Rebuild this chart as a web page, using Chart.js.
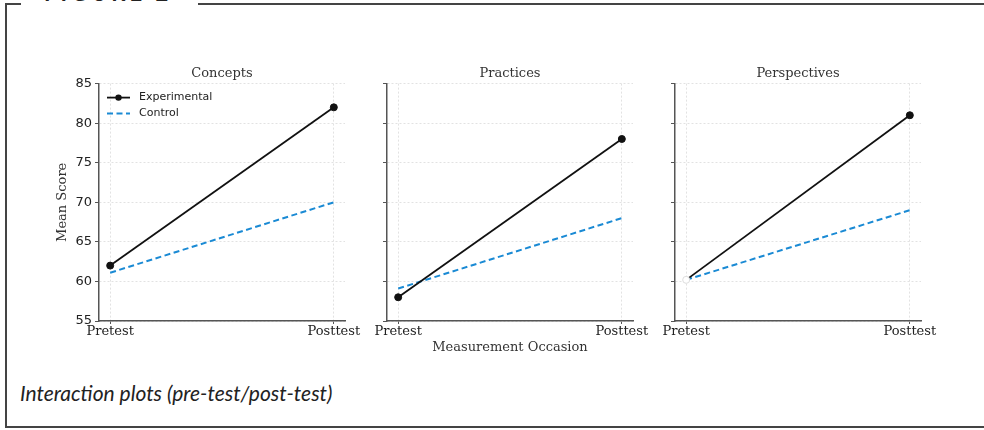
<!DOCTYPE html>
<html>
<head>
<meta charset="utf-8">
<script src="https://cdn.jsdelivr.net/npm/chart.js@4/dist/chart.umd.min.js"></script>
<style>
  html, body { margin: 0; padding: 0; background: #fff; }
  body { width: 984px; height: 430px; position: relative; overflow: hidden; }
  .frame-left { position: absolute; left: 5px; top: 3px; width: 2px; height: 425px; background: #444; }
  .frame-top1 { position: absolute; left: 5px; top: 3px; width: 16px; height: 2px; background: #444; }
  .frame-top2 { position: absolute; left: 198px; top: 3px; width: 786px; height: 2px; background: #444; }
  .frame-bottom { position: absolute; left: 5px; top: 426px; width: 979px; height: 2px; background: #444; }
  .fig-label { position: absolute; left: 44px; top: -18px; font: bold 22px Lato, sans-serif; line-height: 22px; letter-spacing: 4px; color: #222; }
  .caption { position: absolute; left: 20px; top: 380px; font: italic 21px Lato, sans-serif; color: #222; }
  canvas { position: absolute; }
</style>
</head>
<body>
<div class="frame-left"></div>
<div class="frame-top1"></div>
<div class="frame-top2"></div>
<div class="frame-bottom"></div>
<div class="fig-label">FIGURE 2</div>
<canvas id="c0" style="left:39px;top:60px" width="336" height="301"></canvas>
<canvas id="c1" style="left:327px;top:60px" width="336" height="301"></canvas>
<canvas id="c2" style="left:615px;top:60px" width="336" height="301"></canvas>
<div class="caption">Interaction plots (pre-test/post-test)</div>

<script>
// Data
const occasions = ['Pretest', 'Posttest'];
const panels = ['Concepts', 'Practices', 'Perspectives'];
const experimentalConcepts = [62, 82];
const controlConcepts = [61.1, 70];
const experimentalPractices = [58, 78];
const controlPractices = [59.1, 68];
const experimentalPerspectives = [60.2, 81];
const controlPerspectives = [60.2, 69];
const yTicks = [55, 60, 65, 70, 75, 80, 85];

const expData = [experimentalConcepts, experimentalPractices, experimentalPerspectives];
const ctrlData = [controlConcepts, controlPractices, controlPerspectives];

const serif = "'DejaVu Serif', serif";
const sans = "'DejaVu Sans', sans-serif";
const axisColor = '#555';
const blue = '#1a8ad4';

function toPoints(arr) {
    return arr.map((v, i) => ({ x: i, y: v }));
}

// legend drawn inside the plot area, like the original
const innerLegend = {
    id: 'innerLegend',
    afterDatasetsDraw(chart, args, opts) {
        if (!opts.show) return;
        const ctx = chart.ctx;
        const area = chart.chartArea;
        ctx.save();
        chart.data.datasets.forEach((ds, i) => {
            const y = area.top + 14 + i * 16;
            const x0 = area.left + 8;
            ctx.strokeStyle = ds.borderColor;
            ctx.lineWidth = ds.borderWidth;
            ctx.setLineDash(ds.borderDash || []);
            ctx.beginPath();
            ctx.moveTo(x0, y);
            ctx.lineTo(x0 + 23, y);
            ctx.stroke();
            ctx.setLineDash([]);
            if (ds.pointRadius > 0) {
                ctx.fillStyle = ds.borderColor;
                ctx.beginPath();
                ctx.arc(x0 + 11.5, y, 3.2, 0, Math.PI * 2);
                ctx.fill();
            }
            ctx.fillStyle = '#222';
            ctx.font = '11px ' + sans;
            ctx.textBaseline = 'middle';
            ctx.fillText(ds.label, x0 + 32, y);
        });
        ctx.restore();
    }
};

function makeChart(idx) {
    const ctx = document.getElementById('c' + idx).getContext('2d');
    const first = idx === 0;
    const middle = idx === 1;
    new Chart(ctx, {
        type: 'line',
        data: {
            datasets: [{
                label: 'Experimental',
                data: toPoints(expData[idx]),
                borderColor: '#111',
                borderWidth: 1.8,
                pointRadius: 3.5,
                pointBackgroundColor: c => (idx === 2 && c.dataIndex === 0) ? '#fff' : '#111',
                pointBorderColor: c => (idx === 2 && c.dataIndex === 0) ? '#ddd' : '#111',
                pointBorderWidth: 1,
                tension: 0
            }, {
                label: 'Control',
                data: toPoints(ctrlData[idx]),
                borderColor: blue,
                borderWidth: 2,
                borderDash: [6, 3.5],
                pointRadius: 0,
                tension: 0
            }]
        },
        options: {
            responsive: false,
            animation: false,
            layout: { padding: { left: 0, right: 30, top: 0, bottom: 0 } },
            plugins: {
                legend: { display: false },
                tooltip: { enabled: false },
                title: {
                    display: true,
                    text: panels[idx],
                    fullSize: false,
                    color: '#333',
                    font: { family: serif, size: 13, weight: 'normal' },
                    padding: { top: 6, bottom: 2 }
                },
                innerLegend: { show: first }
            },
            scales: {
                x: {
                    type: 'linear',
                    min: -0.05,
                    max: 1.05,
                    afterBuildTicks: s => { s.ticks = occasions.map((o, i) => ({ value: i })); },
                    afterFit: s => { s.height = 40; },
                    ticks: {
                        callback: v => occasions[v],
                        color: '#222',
                        font: { family: serif, size: 13 },
                        padding: 0,
                        maxRotation: 0
                    },
                    grid: { color: '#e2e2e2', tickColor: axisColor, tickLength: 3, lineWidth: 1 },
                    border: { color: axisColor, width: 1.5, dash: [2, 2] },
                    title: {
                        display: middle,
                        text: 'Measurement Occasion',
                        color: '#333',
                        font: { family: serif, size: 13 },
                        padding: { top: 0, bottom: 6 }
                    }
                },
                y: {
                    min: 55,
                    max: 85,
                    afterBuildTicks: s => { s.ticks = yTicks.map(v => ({ value: v })); },
                    afterFit: s => { s.width = 60; },
                    ticks: {
                        display: first,
                        color: '#222',
                        font: { family: sans, size: 13 },
                        padding: 3
                    },
                    grid: { color: '#e2e2e2', tickColor: axisColor, tickLength: 4, lineWidth: 1 },
                    border: { color: axisColor, width: 1.5, dash: [2, 2] },
                    title: {
                        display: first,
                        text: 'Mean Score',
                        color: '#333',
                        font: { family: serif, size: 13 },
                        padding: { top: 16 }
                    }
                }
            }
        },
        plugins: [innerLegend]
    });
}

makeChart(0);
makeChart(1);
makeChart(2);
</script>
</body>
</html>
